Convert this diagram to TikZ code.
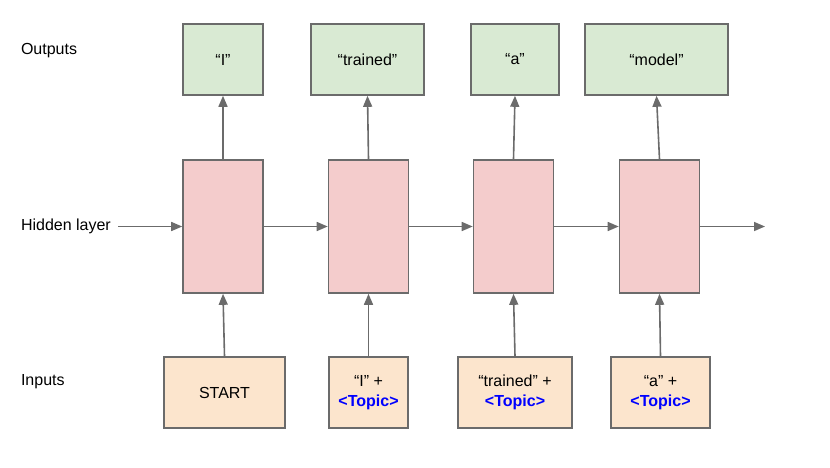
\documentclass[tikz,border=0pt]{standalone}
\usepackage{fontspec}
\setmainfont{Liberation Sans}
\usepackage{xcolor}
\usetikzlibrary{arrows.meta}
\definecolor{outfill}{HTML}{D9EAD3}
\definecolor{hidfill}{HTML}{F4CCCC}
\definecolor{infill}{HTML}{FCE5CD}
\definecolor{edge}{HTML}{6B6B6B}
\definecolor{topicblue}{HTML}{0000FF}
\newcommand{\topic}{\textcolor{topicblue}{\textbf{<Topic>}}}

\begin{document}
\begin{tikzpicture}[x=1pt, y=-1pt,
    box/.style={rectangle, draw=edge, line width=1.6pt, inner sep=0pt, align=center, font=\fontsize{16}{20}\selectfont},
    outbox/.style={box, fill=outfill, minimum height=71pt},
    hidbox/.style={box, fill=hidfill, minimum width=80pt, minimum height=133pt},
    inbox/.style={box, fill=infill, minimum height=71pt},
    tag/.style={anchor=west, font=\fontsize{16}{18}\selectfont},
    line/.style={draw=edge, line width=1.6pt, -{Triangle[length=11pt,width=9pt]}}]

    \useasboundingbox (0,0) rectangle (830,467);

    % row labels
    \node [tag] (lout) at (17.5,51) {Outputs};
    \node [tag] (lhid) at (17.5,226) {Hidden layer};
    \node [tag] (lin) at (17.5,382) {Inputs};

    % hidden layer
    \node [hidbox] (h1) at (223,226.5) {};
    \node [hidbox] (h2) at (368.5,226.5) {};
    \node [hidbox] (h3) at (513.5,226.5) {};
    \node [hidbox] (h4) at (659.5,226.5) {};

    % outputs
    \node [outbox, minimum width=80pt] (o1) at (223,59.5) {“I”};
    \node [outbox, minimum width=113pt] (o2) at (367.5,59.5) {“trained”};
    \node [outbox, minimum width=88pt] (o3) at (515,59.5) {“a”};
    \node [outbox, minimum width=143pt] (o4) at (656.5,59.5) {“model”};

    % inputs
    \node [inbox, minimum width=121pt] (i1) at (224.5,392.5) {START};
    \node [inbox, minimum width=79pt] (i2) at (368.5,392.5) {“I” +\\\topic};
    \node [inbox, minimum width=114pt] (i3) at (515,392.5) {“trained” +\\\topic};
    \node [inbox, minimum width=99pt] (i4) at (660.5,392.5) {“a” +\\\topic};

    \coordinate (hin) at (118,226.5);
    \coordinate (hout) at (765,226.5);

    \path [line] (hin) -- (h1);
    \path [line] (h1) -- (h2);
    \path [line] (h2) -- (h3);
    \path [line] (h3) -- (h4);
    \path [line] (h4) -- (hout);

    \foreach \k in {1,...,4} {
        \path [line] (i\k.north) -- (h\k.south);
        \path [line] (h\k.north) -- (o\k.south);
    }
\end{tikzpicture}
\end{document}
